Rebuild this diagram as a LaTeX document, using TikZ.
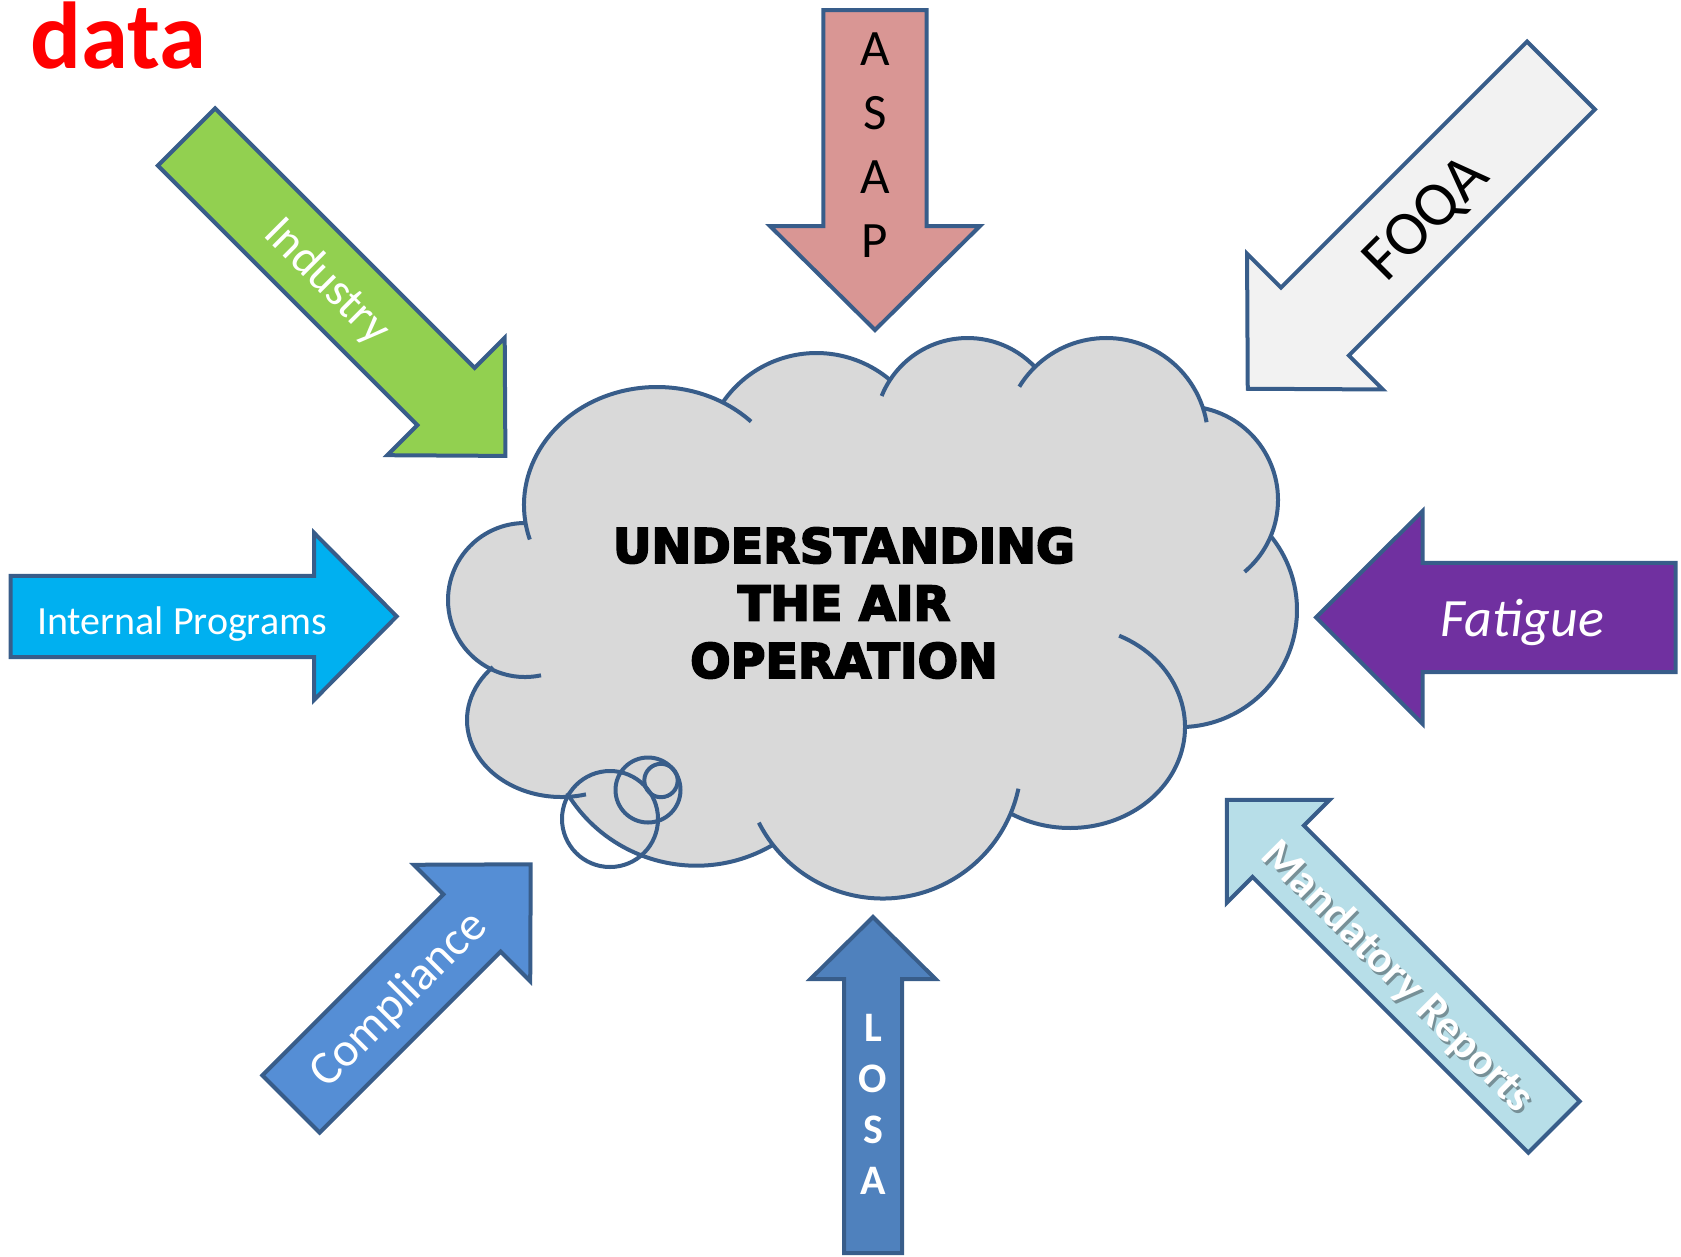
\documentclass[tikz,border=0pt]{standalone}
\usepackage{fontspec}
\setmainfont{Carlito}
\newfontfamily\headfont[FakeBold=4]{DejaVu Sans Bold}

\definecolor{outline}{HTML}{385D8A}
\definecolor{cloudgrey}{HTML}{D9D9D9}
\definecolor{industrygreen}{HTML}{92D050}
\definecolor{asappink}{HTML}{D99694}
\definecolor{foqagrey}{HTML}{F2F2F2}
\definecolor{internalblue}{HTML}{00B0F0}
\definecolor{fatiguepurple}{HTML}{7030A0}
\definecolor{complianceblue}{HTML}{558ED5}
\definecolor{losablue}{HTML}{4F81BD}
\definecolor{mandatoryblue}{HTML}{B7DEE8}

\tikzset{
  blockarrow/.style={draw=outline, line width=4pt, line join=miter},
  cloudline/.style={draw=outline, line width=4pt},
  arrowtext/.style={text=white, inner sep=0pt, font=\fontsize{40}{48}\selectfont},
  titletext/.style={align=center, inner sep=0pt,
    font=\headfont\fontsize{47.5}{57.5}\selectfont},
}

% #1 style, #2 tail, #3 angle, #4 length, #5 half shaft, #6 half head, #7 head length
\newcommand{\blockarrow}[7]{%
  \begin{scope}[shift={(#2)}, rotate=#3]
    \filldraw[blockarrow, #1] (0,-#5) -- (#4-#7,-#5) -- (#4-#7,-#6) -- (#4,0)
      -- (#4-#7,#6) -- (#4-#7,#5) -- (0,#5) -- cycle;
  \end{scope}}

% cloud lobes: centre x / centre y / x radius / y radius / start / end
\def\lobes{525/600/77/77/78/270, 657/505/133/118/163/315,
  816.5/466.7/113.7/113.7/214.7/310.3, 967.6/430.7/92.7/92.7/202/316.6,
  1106.2/439.9/101.9/101.9/211.5/350, 1184.1/500/93.9/93.9/281.6/409.9,
  1179.9/610/117.1/117.1/321.6/447.5, 1070/727/115/101/295.3/481.1,
  882.6/759.6/138.9/138.9/12.1/153, 696.3/714.4/151.3/151.3/59.6/148.7,
  561.5/720/94.5/77/75/223.5}

\begin{document}
\begin{tikzpicture}[x=1pt, y=1pt, yscale=-1]
  \useasboundingbox (0,0) rectangle (1681,1256);

  \node[anchor=base west, inner sep=0pt, text=red,
    font=\bfseries\fontsize{95}{105}\selectfont] (datalabel) at (30,68) {data};

  % arrows
  \blockarrow{fill=industrygreen}{186.5,137}{45}{451}{40.5}{83}{84}
  \blockarrow{fill=asappink}{875,10}{90}{320}{51.7}{105}{104}
  \blockarrow{fill=foqagrey}{1561,75.5}{135}{443}{48}{96}{95}
  \blockarrow{fill=internalblue}{10.7,616.4}{0}{386}{40.6}{83.5}{82.6}
  \blockarrow{fill=fatiguepurple}{1675.5,617.4}{180}{359.5}{54.6}{106.3}{106.5}
  \blockarrow{fill=complianceblue}{291,1104}{-45}{339}{40.5}{82.3}{83}
  \blockarrow{fill=losablue}{873,1253}{-90}{336}{29}{62.5}{62}
  \blockarrow{fill=mandatoryblue}{1554,1127}{225}{462.7}{36.3}{72.8}{72.7}

  \node[arrowtext, rotate=-45, font=\fontsize{47}{56}\selectfont]
    (industry) at (327,282) {Industry};
  \node[inner sep=0pt, align=center, font=\fontsize{51}{64}\selectfont]
    (asap) at (875,145.5) {A\\S\\A\\P};
  \node[inner sep=0pt, anchor=base, rotate=45, font=\fontsize{63}{74}\selectfont]
    (foqa) at (1439,231) {FOQA};
  \node[arrowtext, anchor=base] (internal) at (182,634) {Internal Programs};
  \node[arrowtext, anchor=base, font=\itshape\fontsize{54}{64}\selectfont]
    (fatigue) at (1522.5,636) {Fatigue};
  \node[arrowtext, rotate=45, font=\fontsize{48}{56}\selectfont]
    (compliance) at (399,1000) {Compliance};
  \node[arrowtext, align=center, font=\bfseries\fontsize{42}{51}\selectfont]
    (losa) at (873,1104) {L\\O\\S\\A};
  \node[arrowtext, rotate=-45, text=black, opacity=0.35,
    font=\bfseries\fontsize{45}{54}\selectfont]
    (mandatoryshadow) at (1399,980) {Mandatory Reports};
  \node[arrowtext, rotate=-45, font=\bfseries\fontsize{45}{54}\selectfont]
    (mandatory) at (1397,977) {Mandatory Reports};

  % cloud
  \foreach \cx/\cy/\rx/\ry/\a/\b in \lobes
    \fill[cloudgrey] (\cx,\cy) ellipse[x radius=\rx, y radius=\ry];
  \fill[cloudgrey] (525,600) -- (657,505) -- (816.5,466.7) -- (967.6,430.7)
    -- (1106.2,439.9) -- (1184.1,500) -- (1179.9,610) -- (1070,727)
    -- (882.6,759.6) -- (696.3,714.4) -- (561.5,720) -- cycle;
  \foreach \cx/\cy/\rx/\ry/\a/\b in \lobes
    \draw[cloudline] ({\cx+\rx*cos(\a)},{\cy+\ry*sin(\a)})
      arc[start angle=\a, end angle=\b, x radius=\rx, y radius=\ry];
  \draw[cloudline] (610,819) circle[radius=48];
  \draw[cloudline] (648,790) circle[radius=32.5];
  \draw[cloudline] (661,780.5) circle[radius=16.7];

  \node[titletext] (title) at (844,603) {UNDERSTANDING\\THE AIR\\OPERATION};
\end{tikzpicture}
\end{document}
